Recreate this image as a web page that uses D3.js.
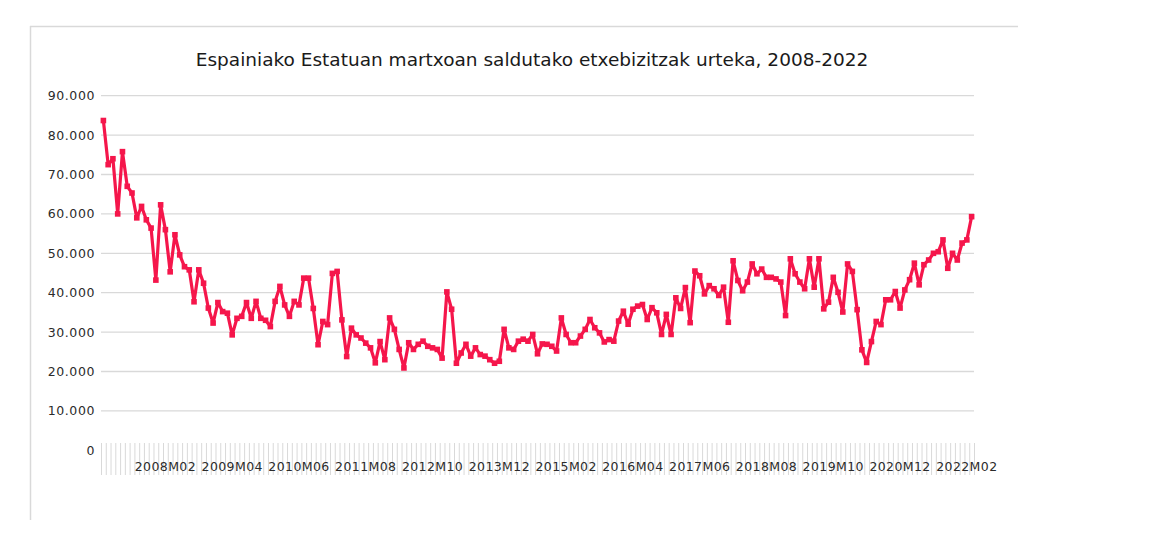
<!DOCTYPE html>
<html>
<head>
<meta charset="utf-8">
<script src="https://cdn.jsdelivr.net/npm/d3@7"></script>
<style>
  body { margin: 0; background: #fff; }
  svg { display: block; }
</style>
</head>
<body>
<div id="chart"></div>
<script>
// monthly sales, 2007M01 .. 2022M03
var salesValues = [
    83700, 72500, 74000, 60000, 75800, 67000, 65300, 59000, 61900, 58500, 56400, 43200,
    62300, 56000, 45300, 54700, 49600, 46600, 45800, 37700, 45800, 42400, 36100, 32300,
    37500, 35200, 34800, 29300, 33500, 34000, 37500, 33500, 37800, 33500, 33000, 31400,
    37800, 41600, 36900, 34000, 37800, 36900, 43700, 43700, 36000, 26800, 32700, 31900,
    44900, 45400, 33100, 23800, 31000, 29300, 28500, 27200, 26000, 22200, 27600, 23000,
    33600, 30700, 25600, 20900, 27300, 25600, 26900, 27700, 26400, 26000, 25600, 23400,
    40200, 35800, 22100, 24700, 26900, 23900, 26000, 24300, 23900, 23000, 22100, 22600,
    30700, 26000, 25600, 27700, 28200, 27700, 29400, 24500, 27000, 26900, 26400, 25200,
    33600, 29400, 27300, 27300, 29000, 30700, 33200, 31100, 29800, 27500, 28100, 27700,
    32800, 35300, 32000, 35800, 36600, 37000, 33200, 36200, 34900, 29400, 34500, 29400,
    38700, 36000, 41300, 32400, 45500, 44300, 39700, 41800, 41000, 39300, 41400, 32500,
    48100, 43100, 40500, 42700, 47300, 44800, 46000, 43900, 43900, 43500, 42700, 34200,
    48600, 44800, 42700, 41000, 48600, 41400, 48600, 35900, 37600, 43900, 40100, 35100,
    47300, 45400, 35700, 25500, 22300, 27600, 32700, 31900, 38200, 38200, 40300, 36100,
    40700, 43300, 47500, 42000, 47100, 48300, 50000, 50400, 53400, 46200, 50000, 48300,
    52600, 53400, 59300
];
var firstYear = 2007;
var monthCount = salesValues.length;
var xTickLabels = ['2008M02', '2009M04', '2010M06', '2011M08', '2012M10', '2013M12', '2015M02',
    '2016M04', '2017M06', '2018M08', '2019M10', '2020M12', '2022M02'];
var yTickValues = [0, 10000, 20000, 30000, 40000, 50000, 60000, 70000, 80000, 90000];
var chartTitle = 'Espainiako Estatuan martxoan saldutako etxebizitzak urteka, 2008-2022';

var categories = [];
for (var i = 0; i < monthCount; i++) {
    var y = firstYear + Math.floor(i / 12);
    var m = (i % 12) + 1;
    categories.push(y + 'M' + (m < 10 ? '0' + m : m));
}
var data = categories.map(function(c, i) { return { cat: c, value: salesValues[i] }; });

var totalWidth = 1170, totalHeight = 534;
var plot = { left: 101, right: 974, top: 95.7, bottom: 450.3 };
var lineColor = '#f5164b';
var gridColor = '#d9d9d9';
var textColor = '#2b2b2b';
var fontFamily = '"DejaVu Sans", sans-serif';

var svg = d3.select('#chart').append('svg')
    .attr('width', totalWidth)
    .attr('height', totalHeight);

// outer frame (only top and left edge visible)
svg.append('line').attr('x1', 30).attr('x2', 1018).attr('y1', 26.5).attr('y2', 26.5)
    .attr('stroke', gridColor).attr('stroke-width', 1.5);
svg.append('line').attr('x1', 30.5).attr('x2', 30.5).attr('y1', 26).attr('y2', 520)
    .attr('stroke', gridColor).attr('stroke-width', 1.5);

svg.append('text')
    .attr('x', 532).attr('y', 66)
    .attr('text-anchor', 'middle')
    .attr('font-family', fontFamily)
    .attr('font-size', 18.5)
    .attr('fill', '#1a1a1a')
    .text(chartTitle);

var xScale = d3.scaleBand()
    .domain(categories)
    .range([plot.left, plot.right])
    .paddingInner(0).paddingOuter(0);

var yScale = d3.scaleLinear()
    .domain([0, 90000])
    .range([plot.bottom, plot.top]);

var fmt = d3.formatLocale({ decimal: ',', thousands: '.', grouping: [3], currency: ['', ''] }).format(',');

// horizontal grid
svg.append('g').selectAll('line')
    .data(yTickValues.filter(function(d) { return d > 0; }))
    .enter().append('line')
    .attr('x1', plot.left).attr('x2', plot.right)
    .attr('y1', d => yScale(d)).attr('y2', d => yScale(d))
    .attr('stroke', gridColor).attr('stroke-width', 1.3);

// y axis labels
var yAxis = d3.axisLeft(yScale).tickValues(yTickValues).tickSize(0).tickPadding(6).tickFormat(fmt);
var yAxisGroup = svg.append('g').attr('transform', 'translate(' + plot.left + ',0)').call(yAxis);
yAxisGroup.select('.domain').remove();
yAxisGroup.selectAll('text')
    .attr('font-family', fontFamily).attr('font-size', 12.5)
    .attr('letter-spacing', 0.6)
    .attr('fill', textColor);

// category tick marks at band boundaries
var boundaries = categories.map(function(c) { return xScale(c); }).concat([plot.right]);
svg.append('g').selectAll('line')
    .data(boundaries)
    .enter().append('line')
    .attr('x1', d => d + 0.5).attr('x2', d => d + 0.5)
    .attr('y1', 443).attr('y2', 475)
    .attr('stroke', gridColor).attr('stroke-width', 1);

// x axis labels
var xAxis = d3.axisBottom(xScale).tickValues(xTickLabels).tickSize(0).tickPadding(12);
var xAxisGroup = svg.append('g').attr('transform', 'translate(0,' + plot.bottom + ')').call(xAxis);
xAxisGroup.select('.domain').remove();
xAxisGroup.selectAll('text')
    .attr('font-family', fontFamily).attr('font-size', 12.5)
    .attr('letter-spacing', 0.4)
    .attr('fill', textColor);

var cx = function(d) { return xScale(d.cat) + xScale.bandwidth() / 2; };

var line = d3.line()
    .x(cx)
    .y(d => yScale(d.value));

svg.append('path')
    .datum(data)
    .attr('d', line)
    .attr('fill', 'none')
    .attr('stroke', lineColor)
    .attr('stroke-width', 3.2)
    .attr('stroke-linejoin', 'round');

svg.append('g').selectAll('rect')
    .data(data)
    .enter().append('rect')
    .attr('x', d => cx(d) - 2.8)
    .attr('y', d => yScale(d.value) - 2.8)
    .attr('width', 5.6)
    .attr('height', 5.6)
    .attr('fill', lineColor);
</script>
</body>
</html>
